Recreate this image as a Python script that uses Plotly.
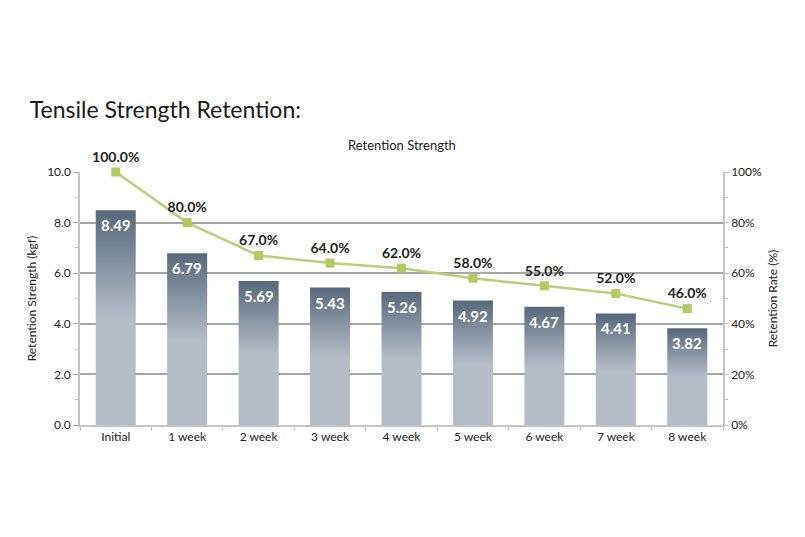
import plotly.graph_objects as go

# Chart data
categories = ["Initial", "1 week", "2 week", "3 week", "4 week", "5 week", "6 week", "7 week", "8 week"]
strength_kgf = [8.49, 6.79, 5.69, 5.43, 5.26, 4.92, 4.67, 4.41, 3.82]
retention_pct = [100.0, 80.0, 67.0, 64.0, 62.0, 58.0, 55.0, 52.0, 46.0]

FONT = "Lato"
BAR_W = 0.56
DARK = "#56687a"
LIGHT = "#b4bcc6"
LINE = "#b9cd7b"
GRID = "#a6a6a6"
AXIS = "#c4c4c4"

fig = go.Figure()

# bars drawn as filled shapes so they can carry a vertical gradient
for i, v in enumerate(strength_kgf):
    fig.add_trace(go.Scatter(
        x=[i - BAR_W / 2, i - BAR_W / 2, i + BAR_W / 2, i + BAR_W / 2, i - BAR_W / 2],
        y=[0, v, v, 0, 0],
        mode="lines", line=dict(width=0),
        fill="toself",
        fillgradient=dict(type="vertical",
                          colorscale=[[0, LIGHT], [0.5, LIGHT], [1, DARK]]),
        hoverinfo="skip", showlegend=False,
    ))

# retention rate line on the right axis
fig.add_trace(go.Scatter(
    x=list(range(len(categories))), y=retention_pct, yaxis="y2",
    mode="lines+markers+text",
    line=dict(color=LINE, width=2.5),
    marker=dict(symbol="square", size=9, color="#b2ca62"),
    text=[f"{v:.1f}%" for v in retention_pct],
    textposition="top center",
    textfont=dict(family=FONT, size=14, color="#222222", weight="bold"),
    cliponaxis=False, showlegend=False,
))

# values inside top of each bar
bar_labels = [dict(x=i, y=v, xref="x", yref="y", text=f"<b>{v:.2f}</b>",
                   showarrow=False, yanchor="middle", yshift=-15,
                   font=dict(family=FONT, size=15, color="white"))
              for i, v in enumerate(strength_kgf)]

fig.update_layout(
    width=805, height=537,
    margin=dict(l=72, r=90, t=164, b=120),
    paper_bgcolor="white", plot_bgcolor="white",
    font=dict(family=FONT, size=12, color="#222222"),
    title=dict(text="Tensile Strength Retention:", x=0.027, xanchor="left",
               y=0.81, yanchor="middle",
               font=dict(family=FONT, size=23, color="#1a1a1a")),
    xaxis=dict(
        range=[-0.5, len(categories) - 0.5],
        tickvals=list(range(len(categories))), ticktext=categories,
        ticks="", showgrid=False, zeroline=False,
        showline=True, linecolor=AXIS, linewidth=1.5,
        minor=dict(tick0=0.5, dtick=1, ticks="outside", ticklen=4, tickcolor=AXIS),
        tickfont=dict(size=12),
    ),
    yaxis=dict(
        range=[0, 10], dtick=2, tickformat=".1f",
        showgrid=True, gridcolor=GRID, gridwidth=2, zeroline=False,
        showline=True, linecolor=AXIS, linewidth=1.5,
        ticks="outside", ticklen=5, tickcolor=GRID,
        minor=dict(dtick=1, ticks="outside", ticklen=3, tickcolor=AXIS),
        title=dict(text="Retention Strength (kgf)", font=dict(size=12), standoff=8),
        tickfont=dict(size=12),
    ),
    yaxis2=dict(
        range=[0, 100], dtick=20, ticksuffix="%", overlaying="y", side="right",
        showgrid=False, zeroline=False,
        showline=True, linecolor=AXIS, linewidth=1.5,
        ticks="outside", ticklen=4, tickcolor=AXIS,
        minor=dict(dtick=10, ticks="outside", ticklen=3, tickcolor=AXIS),
        title=dict(text="Retention Rate (%)", font=dict(size=12), standoff=8),
        tickfont=dict(size=12),
    ),
    annotations=bar_labels + [
        dict(text="Retention Strength", xref="paper", yref="paper",
             x=0.5, y=1.107, showarrow=False, yanchor="middle",
             font=dict(family=FONT, size=13, color="#222222"))],
)

fig.write_html("out.html")
